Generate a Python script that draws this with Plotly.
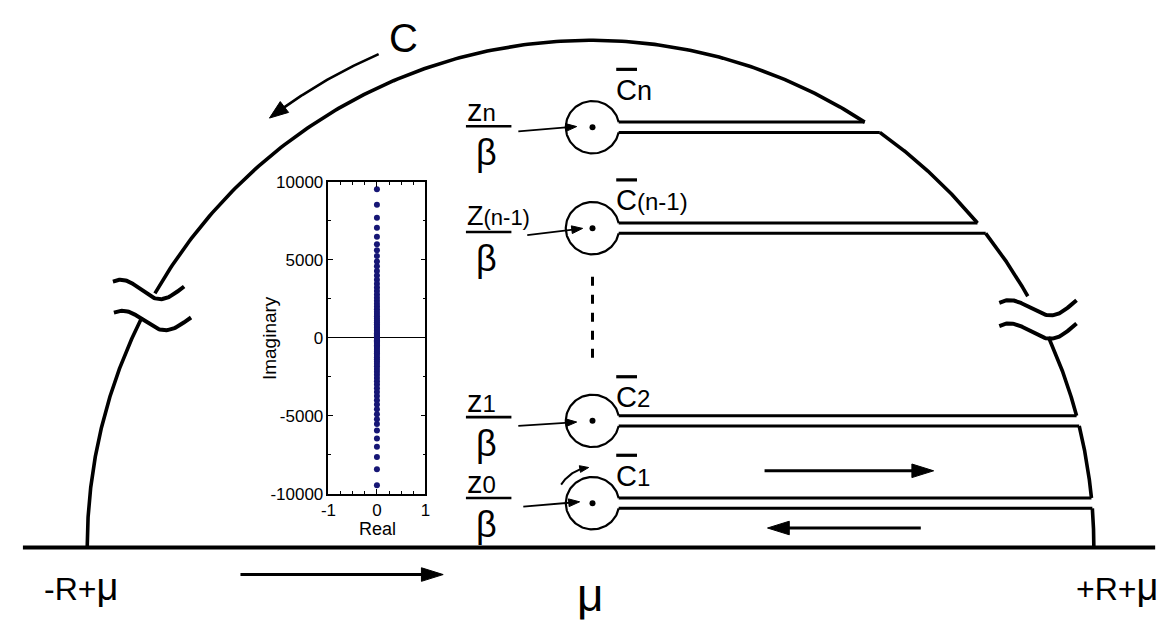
import numpy as np
import plotly.graph_objects as go

# ---------------- inset data: poles z_k / beta (Real, Imaginary) ----------------
POLE_IMAG_UPPER = [9520, 8530, 7700, 7060, 6480, 6000, 5610, 5240, 4900, 4580,
                   4280, 4000, 3730, 3470, 3230, 3000, 2780, 2570, 2370, 2180,
                   2000, 1830, 1670, 1520, 1380, 1240, 1110, 990, 870, 760,
                   660, 560, 470, 380, 300, 220, 150, 80, 20]
POLE_IMAG_LOWER = [-20, -80, -150, -220, -300, -380, -470, -560, -660, -760,
                   -870, -990, -1110, -1240, -1380, -1520, -1670, -1830, -2000, -2180,
                   -2370, -2570, -2780, -3000, -3230, -3470, -3730, -4000, -4280, -4580,
                   -4900, -5220, -5530, -5940, -6460, -6980, -7640, -8430, -9460]
POLE_REAL_UPPER = [0.0] * len(POLE_IMAG_UPPER)
POLE_REAL_LOWER = [0.0] * len(POLE_IMAG_LOWER)
INSET_Y_TICKS = [-10000, -5000, 0, 5000, 10000]
INSET_Y_TICKTEXT = ["-10000", "-5000", "0", "5000", "10000"]
INSET_X_TICKS = [-1, 0, 1]
INSET_X_TICKTEXT = ["-1", "0", "1"]

# ---------------- contour labels ----------------
C_SUFFIX = ["n", "(n-1)", "2", "1"]
Z_LETTER = ["z", "Z", "z", "z"]
Z_SUFFIX = ["n", "(n-1)", "1", "0"]

# ---------------- contour geometry (drawing units) ----------------
ARC_CX, ARC_BASE, ARC_RX, ARC_RY = 581, 547, 509, 523
BASELINE_X = [7, 1152]
RES_X = 583
RES_Y = [113.7, 217.8, 416.5, 501.4]
RES_R = 27
SLIT_HALF = 5.3
LEFT_BREAK_Y = [285, 312]
RIGHT_BREAK_Y = [288, 330]
C_LABEL_Y = [75, 189, 392, 473]
FRAC_Y = [112.7, 221.7, 412.7, 496]
POINTER_START = [(508, 118), (517, 225), (508, 421.7), (513, 505)]
POINTER_END = [(567, 113), (573, 218), (567, 417.7), (570, 500)]
DASH_X, DASH_Y = 583, [268, 360]
FLOW_ARROWS = [(227, 575, 432, 575), (757, 468, 928, 468), (915, 527, 760, 527)]
TILDE_CX = [134, 138, 1034, 1034]
TILDE_CY = [281, 313, 299, 323]
TILDE_W = [72, 78, 78, 78]
TILDE_TILT = [0.0, 0.0, -0.1, -0.1]
TILDE_AMP = 10
C_ARROW_SCALE, C_ARROW_TH = 1.06, [113.4, 127.0]
SMALL_ARROW_R, SMALL_ARROW_TH = 37, [149, 96]

FONT = "Liberation Sans, Arial, Helvetica, sans-serif"
BLACK = "#000000"

fig = go.Figure()


def lines(xs, ys, width, dash=None):
    fig.add_trace(go.Scatter(x=xs, y=ys, mode="lines", xaxis="x", yaxis="y",
                             line=dict(color=BLACK, width=width, dash=dash),
                             hoverinfo="skip", showlegend=False))


def ell(theta, k=1.0):
    return ARC_CX + k * ARC_RX * np.cos(theta), ARC_BASE - k * ARC_RY * np.sin(theta)


def th_r(y):
    return np.arcsin((ARC_BASE - y) / ARC_RY)


def th_l(y):
    return np.pi - th_r(y)


tri_x, tri_y = [], []


def arrow(x0, y0, x1, y1, width, head_len, head_half):
    u = np.array([x1 - x0, y1 - y0], float)
    u /= np.hypot(*u)
    n = np.array([-u[1], u[0]])
    tip = np.array([x1, y1], float)
    base = tip - head_len * u
    stop = tip - head_len * 0.7 * u
    lines([x0, stop[0]], [y0, stop[1]], width)
    p1, p2 = base + head_half * n, base - head_half * n
    tri_x.extend([tip[0], p1[0], p2[0], tip[0], None])
    tri_y.extend([tip[1], p1[1], p2[1], tip[1], None])


# baseline
lines(BASELINE_X, [ARC_BASE, ARC_BASE], 4)

# big arc with breaks
h = SLIT_HALF
segs = [(np.pi, th_l(LEFT_BREAK_Y[1])),
        (th_l(LEFT_BREAK_Y[0]), th_r(RES_Y[0] - h)),
        (th_r(RES_Y[0] + h), th_r(RES_Y[1] - h)),
        (th_r(RES_Y[1] + h), th_r(RIGHT_BREAK_Y[0])),
        (th_r(RIGHT_BREAK_Y[1]), th_r(RES_Y[2] - h)),
        (th_r(RES_Y[2] + h), th_r(RES_Y[3] - h)),
        (th_r(RES_Y[3] + h), 0.0)]
ax, ay = [], []
for a, b in segs:
    t = np.linspace(a, b, 200)
    x, y = ell(t)
    ax += list(x) + [None]
    ay += list(y) + [None]
lines(ax, ay, 3.6)

# keyhole slits and small circles
sx, sy, cx, cy = [], [], [], []
for c in RES_Y:
    for s in (-1, 1):
        y = c + s * h
        x0 = RES_X + np.sqrt(RES_R ** 2 - h ** 2)
        x1 = ell(th_r(y))[0]
        sx += [x0, x1, None]
        sy += [y, y, None]
    a0 = np.arcsin(h / RES_R)
    phi = np.linspace(a0, 2 * np.pi - a0, 120)
    cx += list(RES_X + RES_R * np.cos(phi)) + [None]
    cy += list(c - RES_R * np.sin(phi)) + [None]
lines(sx, sy, 3)
lines(cx, cy, 2.2)
fig.add_trace(go.Scatter(x=[RES_X] * len(RES_Y), y=RES_Y, mode="markers", xaxis="x", yaxis="y",
                         marker=dict(color=BLACK, size=6), hoverinfo="skip", showlegend=False))

# dashed vertical line
lines([DASH_X, DASH_X], DASH_Y, 3, dash="9px,9px")

# tildes
tx, ty = [], []
for xc, yc, w, tilt in zip(TILDE_CX, TILDE_CY, TILDE_W, TILDE_TILT):
    u = np.linspace(0, 1, 80)
    px = (u - 0.5) * w
    py = -TILDE_AMP * np.sin(2 * np.pi * (0.15 + 0.9 * u))
    rx = px * np.cos(tilt) - py * np.sin(tilt)
    ry = px * np.sin(tilt) + py * np.cos(tilt)
    tx += list(xc + rx) + [None]
    ty += list(yc + ry) + [None]
lines(tx, ty, 4)

# C arrow (curved, outside the arc)
t = np.radians(np.linspace(C_ARROW_TH[0], C_ARROW_TH[1], 80))
x, y = ell(t, C_ARROW_SCALE)
lines(list(x[:-8]), list(y[:-8]), 2.6)
arrow(x[-9], y[-9], x[-1], y[-1], 0.1, 19, 7)

# small curved arrow above C1 circle
p = np.radians(np.linspace(SMALL_ARROW_TH[0], SMALL_ARROW_TH[1], 40))
x = RES_X + SMALL_ARROW_R * np.cos(p)
y = RES_Y[3] - SMALL_ARROW_R * np.sin(p)
lines(list(x[:-6]), list(y[:-6]), 2)
arrow(x[-7], y[-7], x[-1], y[-1], 0.1, 9, 3.5)

# flow arrows
for (x0, y0, x1, y1) in FLOW_ARROWS:
    arrow(x0, y0, x1, y1, 3, 22, 7)

# pointer arrows
for (x0, y0), (x1, y1) in zip(POINTER_START, POINTER_END):
    arrow(x0, y0, x1, y1, 1.8, 11, 4)

# fraction bars and C overbars
bx, by = [], []
for fy in FRAC_Y:
    bx += [455, 501, None]
    by += [fy, fy, None]
lines(bx, by, 2.6)
ox, oy = [], []
for cyl in C_LABEL_Y:
    ox += [607, 628, None]
    oy += [cyl - 21, cyl - 21, None]
lines(ox, oy, 3.2)

fig.add_trace(go.Scatter(x=tri_x, y=tri_y, mode="lines", fill="toself", fillcolor=BLACK,
                         xaxis="x", yaxis="y", line=dict(color=BLACK, width=1),
                         hoverinfo="skip", showlegend=False))

# inset scatter
fig.add_trace(go.Scatter(x=POLE_REAL_UPPER + POLE_REAL_LOWER, y=POLE_IMAG_UPPER + POLE_IMAG_LOWER,
                         mode="markers", xaxis="x2", yaxis="y2",
                         marker=dict(color="#161675", size=6), hoverinfo="skip", showlegend=False))

ann = []


def text(x, y, s, size, xanchor="center", yanchor="middle", angle=0):
    ann.append(dict(x=x, y=y, xref="x", yref="y", text=s, showarrow=False,
                    xanchor=xanchor, yanchor=yanchor, textangle=angle,
                    font=dict(family=FONT, size=size, color=BLACK)))


text(392, 22, "C", 40)
for cyl, suf in zip(C_LABEL_Y, C_SUFFIX):
    sz = 27 if suf == "n" else 24
    text(605, cyl, "C<span style='font-size:%dpx'>%s</span>" % (sz, suf), 29, xanchor="left")
for fy, let, suf in zip(FRAC_Y, Z_LETTER, Z_SUFFIX):
    sz = 24 if len(suf) == 1 else 22
    text(454, fy - 16, "%s<span style='font-size:%dpx'>%s</span>" % (let, sz, suf),
         31 if let == "z" else 27, xanchor="left")
    text(476, fy + 27, "β", 36)
text(66, 588, "-R+<span style='font-size:38px'>μ</span>", 32)
text(1113, 588, "+R+<span style='font-size:38px'>μ</span>", 32)
text(581, 596, "μ", 46)
text(257, 331, "Imaginary", 19, angle=-90)
text(366, 528, "Real", 18)

axis_font = dict(family=FONT, size=17, color=BLACK)
fig.update_layout(
    width=1166, height=626, margin=dict(l=0, r=0, t=0, b=0),
    paper_bgcolor="white", plot_bgcolor="white", showlegend=False,
    annotations=ann,
    xaxis=dict(range=[0, 1166], visible=False, domain=[0, 1], fixedrange=True),
    yaxis=dict(range=[626, 0], visible=False, domain=[0, 1], fixedrange=True),
    xaxis2=dict(domain=[316 / 1166, 414 / 1166], anchor="y2", range=[-1, 1],
                tickvals=INSET_X_TICKS, ticktext=INSET_X_TICKTEXT, ticks="inside", ticklen=5,
                tickcolor=BLACK, showline=True, mirror="allticks", linecolor=BLACK, linewidth=1.5,
                showgrid=False, zeroline=False, tickfont=axis_font,
                minor=dict(dtick=0.25, ticks="inside", ticklen=3, tickcolor=BLACK, showgrid=False)),
    yaxis2=dict(domain=[1 - 491.7 / 626, 1 - 170 / 626], anchor="x2", range=[-10000, 10000],
                tickvals=INSET_Y_TICKS, ticktext=INSET_Y_TICKTEXT, ticks="inside", ticklen=5,
                tickcolor=BLACK, showline=True, mirror="allticks", linecolor=BLACK, linewidth=1.5,
                showgrid=False, zeroline=True, zerolinecolor=BLACK, zerolinewidth=1,
                tickfont=axis_font,
                minor=dict(dtick=2500, ticks="inside", ticklen=3, tickcolor=BLACK, showgrid=False)),
)

fig.write_html("out.html")
